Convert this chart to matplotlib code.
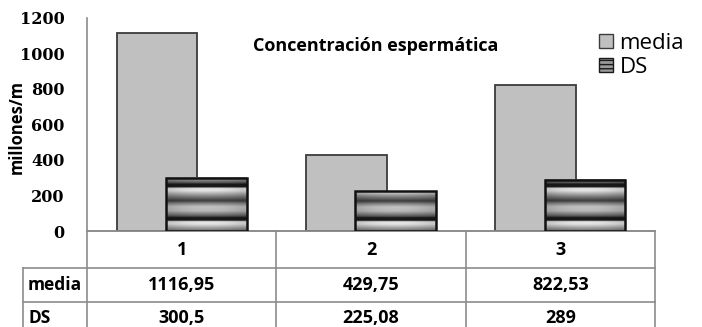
import numpy as np
import matplotlib
matplotlib.use("Agg")
import matplotlib.pyplot as plt
from matplotlib.patches import Rectangle
from matplotlib.transforms import blended_transform_factory

# --- data -------------------------------------------------------------
categories = ["1", "2", "3"]
media = [1116.95, 429.75, 822.53]
ds = [300.5, 225.08, 289]
media_labels = ["1116,95", "429,75", "822,53"]
ds_labels = ["300,5", "225,08", "289"]
row_names = ["media", "DS"]
yticks = [0, 200, 400, 600, 800, 1000, 1200]

title = "Concentración espermática"
ylabel = "millones/m"

# --- figure / axes ----------------------------------------------------
W, H, DPI = 702, 327, 100
fig = plt.figure(figsize=(W / DPI, H / DPI), dpi=DPI)
ax_left, ax_right, ax_top, ax_bot = 87, 655, 18, 231
ax = fig.add_axes([ax_left / W, 1 - ax_bot / H,
                   (ax_right - ax_left) / W, (ax_bot - ax_top) / H])

TXT = "Open Sans"
GRID = "#8c8c8c"

x = np.arange(len(categories))
bw = 0.425
off = 0.13

ax.bar(x - off, media, width=bw, color="#c0c0c0", edgecolor="#3c3c3c",
       linewidth=1.3, zorder=2)
ds_bars = ax.bar(x + off, ds, width=bw, facecolor="none", edgecolor="#111111",
                 linewidth=1.8, zorder=4)

# banded "cylinder" fill for the DS bars, anchored to fixed heights
px_per_unit = (ax_bot - ax_top) / 1200.0
period = 33 / px_per_unit
anchor = 67.6
prof_d = [0, 1.5, 2.5, 5, 10, 15, 18, 21, 25, 28, 30.5, 31.5, 33]
prof_g = [25, 25, 225, 230, 140, 60, 140, 195, 185, 130, 80, 25, 25]
for p in ds_bars.patches:
    h = p.get_height()
    ys = np.linspace(0, h, 600)
    t = np.mod(ys - anchor, period) / period
    d = 33 * (1 - t)
    g = np.interp(d, prof_d, prof_g) / 255.0
    img = np.repeat(g[:, None], 8, axis=1)
    # mild horizontal shading
    edge = 1 - 0.12 * np.abs(np.linspace(-1, 1, 8)) ** 2
    img = img * edge[None, :]
    ax.imshow(img, cmap="gray", vmin=0, vmax=1, origin="lower",
              extent=(p.get_x(), p.get_x() + p.get_width(), 0, h),
              aspect="auto", interpolation="bilinear", zorder=3)

ax.set_xlim(-0.5, 2.5)
ax.set_ylim(0, 1200)
ax.set_yticks(yticks)
ax.set_yticklabels([str(v) for v in yticks], fontfamily="DejaVu Serif",
                   fontweight="bold", fontsize=11.5)
ax.tick_params(axis="y", length=0, pad=16)
ax.set_xticks([])
for s in ("top", "right"):
    ax.spines[s].set_visible(False)
ax.spines["left"].set_color(GRID)
ax.spines["bottom"].set_color(GRID)
ax.spines["left"].set_linewidth(1.2)
ax.spines["bottom"].set_linewidth(1.2)

tr = blended_transform_factory(ax.transData, ax.transAxes)
ah = ax_bot - ax_top
unit_px = (ax_right - ax_left) / 3.0


def yax(px):
    return (ax_bot - px) / ah


def xdat(px):
    return (px - ax_left) / unit_px - 0.5


fig.text(17 / W, 1 - 127 / H, ylabel, rotation=90, ha="center", va="center",
         fontfamily=TXT, fontweight="bold", fontsize=12)
ax.text(xdat(376), yax(46), title, transform=tr, ha="center", va="center",
        fontfamily=TXT, fontweight="bold", fontsize=13)

# legend
h_media = Rectangle((0, 0), 1, 1, facecolor="#c0c0c0", edgecolor="#3c3c3c", lw=1)
h_ds = Rectangle((0, 0), 1, 1, facecolor="#9a9a9a", edgecolor="#1a1a1a",
                 lw=1, hatch="----")
leg = fig.legend([h_media, h_ds], ["media", "DS"], loc="upper left",
                 bbox_to_anchor=(599 / W, 1 - 33 / H), frameon=False,
                 prop={"family": TXT, "size": 16}, handlelength=0.62,
                 handleheight=0.62, handletextpad=0.3, labelspacing=0.12,
                 borderpad=0, borderaxespad=0)

# --- data table under the axis -----------------------------------------
xl = xdat(23)
y_rows = [yax(231), yax(268), yax(302), yax(338)]
lkw = dict(color=GRID, lw=1.2, transform=tr, clip_on=False, zorder=1)
ax.plot([-0.5, 2.5], [y_rows[0]] * 2, **lkw)
for yy in y_rows[1:3]:
    ax.plot([xl, 2.5], [yy] * 2, **lkw)
ax.plot([xl, xl], [y_rows[1], y_rows[3]], **lkw)
for xv in [-0.5, 0.5, 1.5, 2.5]:
    ax.plot([xv, xv], [y_rows[0], y_rows[3]], **lkw)

tkw = dict(transform=tr, ha="center", va="center", fontfamily=TXT,
           fontweight="bold", fontsize=13, clip_on=False)
for i, c in enumerate(categories):
    ax.text(x[i], yax(250), c, **tkw)
    ax.text(x[i], yax(285), media_labels[i], **tkw)
    ax.text(x[i], yax(318), ds_labels[i], **tkw)
xr = xdat(28)
ax.text(xr, yax(285), row_names[0], **{**tkw, "ha": "left", "fontsize": 12.5})
ax.text(xr, yax(318), row_names[1], **{**tkw, "ha": "left", "fontsize": 12.5})

fig.savefig("out.png", dpi=DPI)
